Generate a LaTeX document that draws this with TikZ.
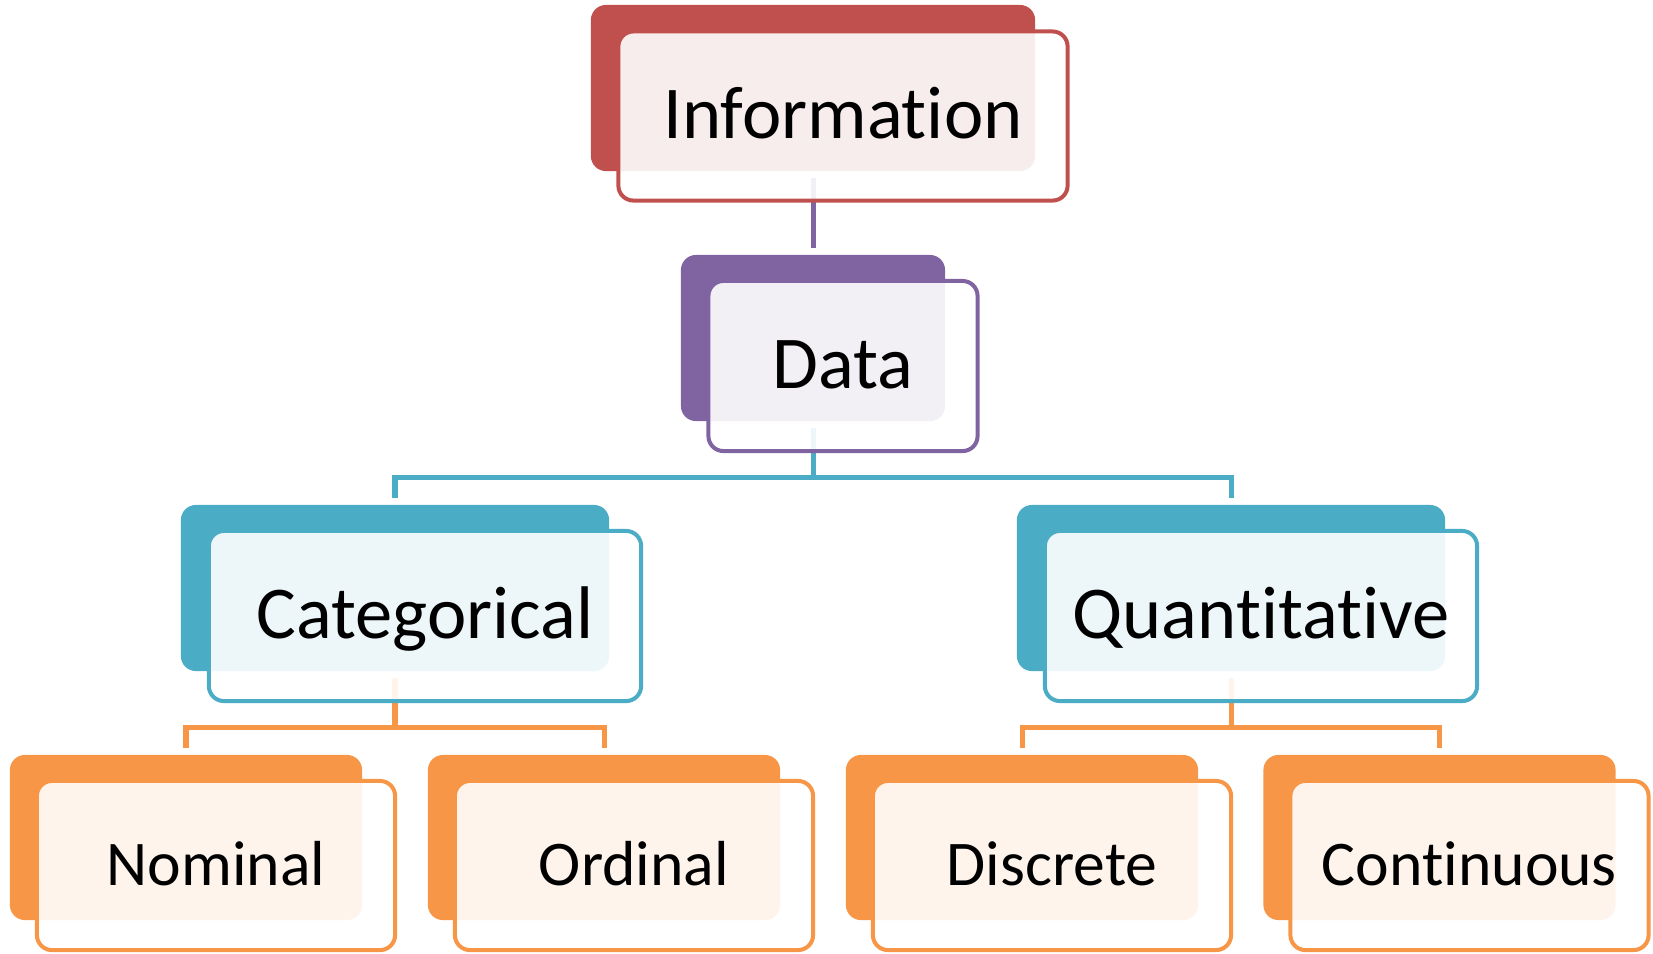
\documentclass[tikz,border=0pt]{standalone}
\usepackage{fontspec}
\setmainfont{Carlito}[RawFeature=-liga]
\usetikzlibrary{calc}
\definecolor{infored}{HTML}{C0504D}
\definecolor{datapurple}{HTML}{8064A2}
\definecolor{typeblue}{HTML}{4BACC6}
\definecolor{scaleorange}{HTML}{F79646}
\tikzset{
    back/.style={fill=#1, draw=none, rounded corners=0.15cm, inner sep=0pt},
    front/.style={draw=#1, line width=0.04cm, fill=white, fill opacity=0.9, text opacity=1,
        rounded corners=0.15cm, inner sep=0pt, text depth=0pt},
    link/.style={draw=#1, line width=0.05cm, shorten <=0.06cm, shorten >=0.06cm},
    big text/.style={font=\fontsize{21.2}{25}\selectfont, text height=0.44cm},
    small text/.style={font=\fontsize{18.1}{21}\selectfont, text height=0.39cm},
    info size/.style={minimum width=4.44cm, minimum height=1.66cm},
    data size/.style={minimum width=2.64cm, minimum height=1.66cm},
    type size/.style={minimum width=4.28cm, minimum height=1.66cm},
    scale size/.style={minimum width=3.52cm, minimum height=1.65cm}
}

\begin{document}
\begin{tikzpicture}[x=0.01cm, y=-0.01cm]
    \useasboundingbox (0,0) rectangle (1653,953);

    % --- Back panels ---
    \node (infoB) [back=infored, info size] at (813,88) {};
    \node (dataB) [back=datapurple, data size] at (813,338) {};
    \node (catB) [back=typeblue, type size] at (395,588) {};
    \node (quantB) [back=typeblue, type size] at (1231,588) {};
    \node (nomB) [back=scaleorange, scale size] at (186,837.5) {};
    \node (ordB) [back=scaleorange, scale size] at (604,837.5) {};
    \node (discB) [back=scaleorange, scale size] at (1022,837.5) {};
    \node (contB) [back=scaleorange, scale size] at (1439.5,837.5) {};

    % --- Junctions ---
    \coordinate (dataJ) at (813,477);
    \coordinate (catJ) at (395,727);
    \coordinate (quantJ) at (1231,727);

    % --- Connectors ---
    \draw[link=datapurple] (infoB) -- (dataB);
    \draw[link=typeblue, shorten >=0pt] (dataB) -- (dataJ);
    \draw[link=typeblue, shorten <=0pt] (dataJ) -| (catB);
    \draw[link=typeblue, shorten <=0pt] (dataJ) -| (quantB);
    \draw[link=scaleorange, shorten >=0pt] (catB) -- (catJ);
    \draw[link=scaleorange, shorten <=0pt] (catJ) -| (nomB);
    \draw[link=scaleorange, shorten <=0pt] (catJ) -| (ordB);
    \draw[link=scaleorange, shorten >=0pt] (quantB) -- (quantJ);
    \draw[link=scaleorange, shorten <=0pt] (quantJ) -| (discB);
    \draw[link=scaleorange, shorten <=0pt] (quantJ) -| (contB);

    % --- Front panels ---
    \node (info) [front=infored, big text, minimum width=4.49cm, minimum height=1.69cm]
        at ($(infoB)+(30,28)$) {Information};
    \node (data) [front=datapurple, big text, minimum width=2.69cm, minimum height=1.70cm]
        at ($(dataB)+(30,28)$) {Data};
    \node (cat) [front=typeblue, big text, minimum width=4.32cm, minimum height=1.70cm]
        at ($(catB)+(30,28)$) {Categorical};
    \node (quant) [front=typeblue, big text, minimum width=4.32cm, minimum height=1.70cm]
        at ($(quantB)+(30,28)$) {Quantitative};
    \node (nom) [front=scaleorange, small text, minimum width=3.58cm, minimum height=1.69cm]
        at ($(nomB)+(30,28)$) {Nominal};
    \node (ord) [front=scaleorange, small text, minimum width=3.58cm, minimum height=1.69cm]
        at ($(ordB)+(30,28)$) {Ordinal};
    \node (disc) [front=scaleorange, small text, minimum width=3.58cm, minimum height=1.69cm]
        at ($(discB)+(30,28)$) {Discrete};
    \node (cont) [front=scaleorange, small text, minimum width=3.58cm, minimum height=1.69cm]
        at ($(contB)+(30,28)$) {Continuous};
\end{tikzpicture}
\end{document}
